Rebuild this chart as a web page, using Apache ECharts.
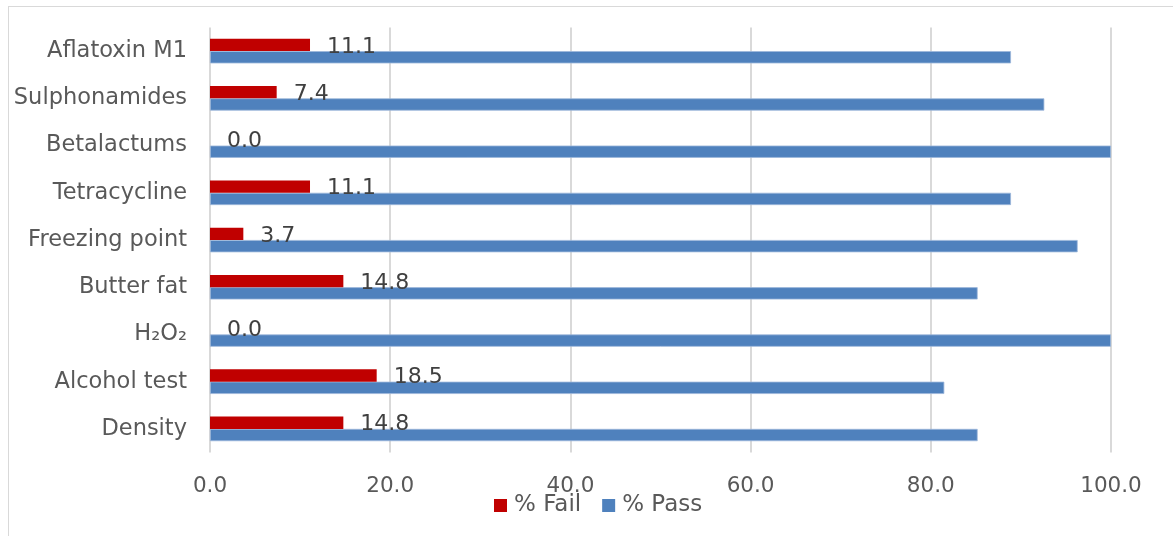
<!DOCTYPE html>
<html>
<head>
<meta charset="utf-8">
<script src="https://cdn.jsdelivr.net/npm/echarts@6/dist/echarts.min.js"></script>
<style>
  html, body { margin: 0; padding: 0; background: #fff; }
  #frame { position: absolute; left: 8px; top: 6px; width: 1200px; height: 600px;
           border-left: 1px solid #d9d9d9; border-top: 1px solid #d9d9d9; }
  #chart { position: absolute; left: 0; top: 0; width: 1173px; height: 536px; }
</style>
</head>
<body>
<div id="frame"></div>
<div id="chart"></div>
<script>
// Milk quality tests, bottom to top
const categories = ['Density', 'Alcohol test', 'H\u2082O\u2082', 'Butter fat', 'Freezing point',
                    'Tetracycline', 'Betalactums', 'Sulphonamides', 'Aflatoxin M1'];
const failPct = [14.8, 18.5, 0.0, 14.8, 3.7, 11.1, 0.0, 7.4, 11.1];
const passPct = [85.2, 81.5, 100.0, 85.2, 96.3, 88.9, 100.0, 92.6, 88.9];
const seriesNames = ['% Fail', '% Pass'];

const FONT = 'DejaVu Sans';
const chart = echarts.init(document.getElementById('chart'), null, { renderer: 'canvas' });

chart.setOption({
  animation: false,
  grid: { left: 210, right: 62, top: 27.5, bottom: 83.5, containLabel: false },
  legend: {
    data: seriesNames,
    left: 494, top: 494, padding: 0,
    itemWidth: 13, itemHeight: 13, itemGap: 21,
    icon: 'rect',
    itemStyle: { borderWidth: 0 },
    textStyle: { fontFamily: FONT, fontSize: 23, color: '#595959', padding: [0, 0, 0, 2] }
  },
  xAxis: {
    type: 'value', min: 0, max: 100, interval: 20,
    axisLine: { show: false }, axisTick: { show: false },
    splitLine: { lineStyle: { color: '#d9d9d9', width: 2 } },
    axisLabel: { fontFamily: FONT, fontSize: 21.5, color: '#595959', margin: 23,
                 formatter: v => v.toFixed(1) }
  },
  yAxis: {
    type: 'category', data: categories,
    axisLine: { show: false }, axisTick: { show: false },
    axisLabel: { fontFamily: FONT, fontSize: 22.5, color: '#595959', margin: 23 }
  },
  series: [
    {
      name: seriesNames[0], type: 'bar', data: failPct,
      barWidth: 12.3, barGap: '0%',
      itemStyle: { color: '#c00000' },
      label: { show: true, position: 'right', distance: 17, offset: [0, 2], fontFamily: FONT,
               fontSize: 22, color: '#404040', formatter: p => p.value.toFixed(1) },
      z: 3
    },
    {
      name: seriesNames[1], type: 'bar', data: passPct,
      barWidth: 12.3, barGap: '0%',
      itemStyle: { color: '#4f81bd', borderColor: '#9db8da', borderWidth: 0.8 },
      z: 2
    }
  ]
});
</script>
</body>
</html>
